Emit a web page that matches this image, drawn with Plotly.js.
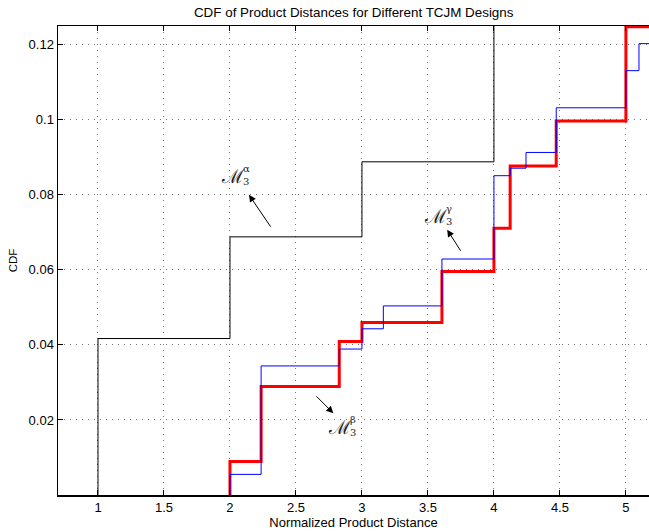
<!DOCTYPE html>
<html>
<head>
<meta charset="utf-8">
<script src="https://cdn.plot.ly/plotly-3.0.1.min.js"></script>
<style>html,body{margin:0;padding:0;background:#fff;}#chart{width:649px;height:532px;}</style>
</head>
<body>
<div id="chart"></div>
<script>
// Data (normalized product distance -> CDF)
const alphaDist = [1, 1, 2, 3, 4, 5.2];
const alphaCdf  = [0, 0.0417, 0.0688, 0.0888, 0.13, 0.13];

const betaDist = [2, 2, 2.236, 2.828, 3, 3.606, 4, 4.123, 4.472, 5, 5.2];
const betaCdf  = [0, 0.0089, 0.0289, 0.0409, 0.0460, 0.0596, 0.0711, 0.0877, 0.0997, 0.1248, 0.1248];

const gammaDist = [2, 2, 2.236, 2.828, 3, 3.162, 3.606, 4, 4.123, 4.243, 4.472, 5, 5.099, 5.2];
const gammaCdf  = [0, 0.0055, 0.0344, 0.0389, 0.0443, 0.0504, 0.0629, 0.0851, 0.0871, 0.0913, 0.1032, 0.1131, 0.1203, 0.1203];

const xTicks = [1, 1.5, 2, 2.5, 3, 3.5, 4, 4.5, 5];
const xTickText = ['1', '1.5', '2', '2.5', '3', '3.5', '4', '4.5', '5'];
const yTicks = [0.02, 0.04, 0.06, 0.08, 0.1, 0.12];
const yTickText = ['0.02', '0.04', '0.06', '0.08', '0.1', '0.12'];

const labels = ['α', 'β', 'γ'];
const labelPos = [[2.114, 0.0851], [2.924, 0.0181], [3.654, 0.0744]];
const arrowHead = [[2.144, 0.0800], [2.783, 0.0218], [3.646, 0.0707]];
const arrowTail = [[2.316, 0.0711], [2.644, 0.0267], [3.755, 0.0647]];

const traces = [
  {x: alphaDist, y: alphaCdf, mode: 'lines', line: {shape: 'hv', color: '#000000', width: 1}, name: 'alpha'},
  {x: betaDist, y: betaCdf, mode: 'lines', line: {shape: 'hv', color: '#ff0000', width: 3}, name: 'beta'},
  {x: gammaDist, y: gammaCdf, mode: 'lines', line: {shape: 'hv', color: '#0000ff', width: 1}, name: 'gamma'}
];

const annotations = [];
for (let i = 0; i < labels.length; i++) {
  annotations.push({
    x: arrowHead[i][0], y: arrowHead[i][1], ax: arrowTail[i][0], ay: arrowTail[i][1],
    xref: 'x', yref: 'y', axref: 'x', ayref: 'y', text: '', showarrow: true,
    arrowhead: 2, arrowsize: 1.4, arrowwidth: 1, arrowcolor: '#000'
  });
  annotations.push({
    x: labelPos[i][0], y: labelPos[i][1], xref: 'x', yref: 'y', showarrow: false,
    xanchor: 'right', yanchor: 'middle', borderpad: 0,
    text: 'ℳ', font: {family: 'DejaVu Serif', size: 19, color: '#222'}
  });
  annotations.push({
    x: labelPos[i][0], y: labelPos[i][1], xref: 'x', yref: 'y', showarrow: false,
    xanchor: 'left', yanchor: 'middle', align: 'left', borderpad: 0, yshift: 1, xshift: -3,
    text: labels[i] + '<br>3', font: {family: 'DejaVu Serif', size: 10, color: '#222'}
  });
}

const layout = {
  width: 649, height: 532,
  margin: {l: 58, r: 0, t: 26, b: 37, pad: 0},
  paper_bgcolor: '#fff', plot_bgcolor: '#fff',
  showlegend: false,
  font: {family: 'Liberation Sans, Arial, sans-serif', size: 13, color: '#000'},
  title: {text: 'CDF of Product Distances for Different TCJM Designs', x: 0.545, xanchor: 'center', y: 0.976, yanchor: 'middle', font: {size: 13.4}},
  xaxis: {
    range: [0.697, 5.175], tickvals: xTicks, ticktext: xTickText,
    showgrid: true, gridcolor: '#777', griddash: '1px,5px', gridwidth: 1,
    ticks: 'inside', ticklen: 5, tickcolor: '#000',
    showline: true, linecolor: '#000', linewidth: 1.5, mirror: 'ticks',
    zeroline: false,
    title: {text: 'Normalized Product Distance', font: {size: 13}, standoff: 2},
    tickfont: {size: 13}
  },
  yaxis: {
    range: [0, 0.125], tickvals: yTicks, ticktext: yTickText,
    showgrid: true, gridcolor: '#777', griddash: '1px,5px', gridwidth: 1,
    ticks: 'inside', ticklen: 5, tickcolor: '#000',
    showline: true, linecolor: '#000', linewidth: 1.5, mirror: false,
    zeroline: false,
    title: {text: 'CDF', font: {size: 11.5}, standoff: 8},
    tickfont: {size: 13}
  },
  annotations: annotations
};

Plotly.newPlot('chart', traces, layout, {displayModeBar: false, staticPlot: true});
</script>
</body>
</html>
